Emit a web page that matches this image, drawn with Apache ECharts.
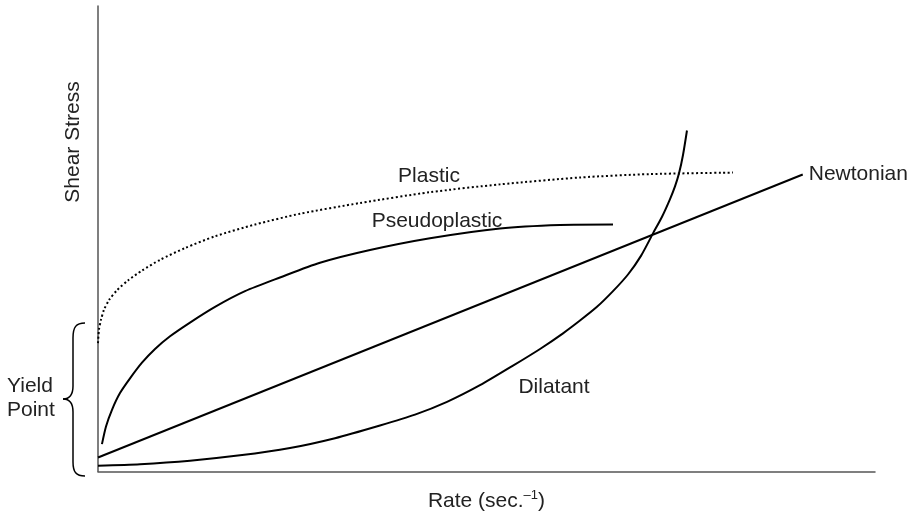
<!DOCTYPE html>
<html>
<head>
<meta charset="utf-8">
<title>Shear Stress vs Rate</title>
<script src="https://cdn.jsdelivr.net/npm/echarts@6/dist/echarts.min.js"></script>
<style>
  html, body { margin: 0; padding: 0; background: #fff; }
  #chart { width: 915px; height: 517px; }
</style>
</head>
<body>
<div id="chart"></div>
<script>
// rate (0-100) vs shear stress (0-100)
const newtonian = [[0, 3.0], [90.7, 63.8]]
const plastic = [
  [0, 27.58], [0.13, 30.53], [0.39, 32.63], [0.77, 34.74], [1.42, 36.84],
  [2.45, 38.95], [3.86, 41.05], [5.66, 43.16], [7.98, 45.47], [11.2, 48.0],
  [15.06, 50.53], [20.21, 53.05], [26.0, 55.37], [33.72, 57.68], [42.73, 60.0],
  [51.74, 61.68], [62.03, 63.16], [71.04, 63.89], [81.72, 64.21]
]
const pseudoplastic = [
  [0.51, 5.89], [1.03, 9.68], [1.8, 13.26], [2.83, 16.84], [4.12, 20.0],
  [5.66, 23.37], [7.34, 26.32], [9.27, 29.05], [11.84, 32.0], [15.06, 35.37],
  [18.92, 38.74], [23.42, 41.68], [28.57, 44.84], [35.01, 47.58], [42.73, 50.11],
  [51.74, 52.21], [59.46, 52.95], [66.28, 53.05]
]
const dilatant = [
  [0, 1.26], [5.41, 1.58], [11.84, 2.32], [18.28, 3.47], [24.71, 5.05],
  [30.5, 7.16], [36.29, 9.89], [40.8, 12.21], [44.92, 14.95], [49.16, 18.53],
  [53.41, 22.74], [56.89, 26.32], [59.85, 29.68], [62.03, 32.42], [64.22, 35.37],
  [66.28, 38.74], [68.21, 42.32], [69.88, 46.32], [71.43, 51.16], [72.59, 54.74],
  [73.62, 58.53], [74.26, 61.26], [74.77, 64.0], [75.29, 68.0], [75.8, 73.26]
]

const font = 'Liberation Sans'
const txt = '#222'

const myChart = echarts.init(document.getElementById('chart'))

const curve = (name, data, extra) => Object.assign({
  name,
  type: 'line',
  data,
  symbol: 'none',
  smooth: 0.25,
  lineStyle: { color: '#000', width: 2 },
  silent: true
}, extra)

// curly brace next to "Yield Point"
const braceStyle = { stroke: '#000', lineWidth: 1.5, fill: 'none' }
const brace = [
  { type: 'bezierCurve', shape: { x1: 85, y1: 323, cpx1: 76, cpy1: 323, cpx2: 73, cpy2: 327, x2: 73, y2: 338 }, style: braceStyle },
  { type: 'line', shape: { x1: 73, y1: 338, x2: 73, y2: 386 }, style: braceStyle },
  { type: 'bezierCurve', shape: { x1: 73, y1: 386, cpx1: 73, cpy1: 395, cpx2: 70, cpy2: 399, x2: 63, y2: 399 }, style: braceStyle },
  { type: 'bezierCurve', shape: { x1: 63, y1: 399, cpx1: 70, cpy1: 399, cpx2: 73, cpy2: 403, x2: 73, y2: 412 }, style: braceStyle },
  { type: 'line', shape: { x1: 73, y1: 412, x2: 73, y2: 462 }, style: braceStyle },
  { type: 'bezierCurve', shape: { x1: 73, y1: 462, cpx1: 73, cpy1: 472, cpx2: 76, cpy2: 476, x2: 85, y2: 476 }, style: braceStyle }
]

const option = {
  animation: false,
  grid: { left: 98, right: 40, top: 6, bottom: 36 },
  xAxis: {
    type: 'value',
    min: 0,
    max: 100,
    name: '{a|Rate (sec.}{s|–1}{a|)}',
    nameLocation: 'middle',
    nameGap: 17,
    nameTextStyle: {
      rich: {
        a: { fontFamily: font, fontSize: 21, color: txt, lineHeight: 26 },
        s: { fontFamily: font, fontSize: 13, color: txt, verticalAlign: 'top', lineHeight: 14 }
      }
    },
    axisLine: { lineStyle: { color: '#555', width: 1.5 } },
    axisTick: { show: false },
    axisLabel: { show: false },
    splitLine: { show: false }
  },
  yAxis: {
    type: 'value',
    min: 0,
    max: 100,
    axisLine: { show: true, lineStyle: { color: '#555', width: 1.5 } },
    axisTick: { show: false },
    axisLabel: { show: false },
    splitLine: { show: false }
  },
  graphic: [
    {
      type: 'text', x: 73, y: 142, rotation: Math.PI / 2,
      style: { text: 'Shear Stress', font: '21px ' + font, fill: txt, align: 'center', verticalAlign: 'middle' }
    },
    {
      type: 'text', x: 7, y: 398,
      style: { text: 'Yield\nPoint', font: '21px ' + font, fill: txt, align: 'left', verticalAlign: 'middle', lineHeight: 24 }
    },
    ...brace,
    {
      type: 'text', x: 429, y: 176,
      style: { text: 'Plastic', font: '21px ' + font, fill: txt, align: 'center', verticalAlign: 'middle' }
    },
    {
      type: 'text', x: 437, y: 221,
      style: { text: 'Pseudoplastic', font: '21px ' + font, fill: txt, align: 'center', verticalAlign: 'middle' }
    },
    {
      type: 'text', x: 554, y: 387,
      style: { text: 'Dilatant', font: '21px ' + font, fill: txt, align: 'center', verticalAlign: 'middle' }
    }
  ],
  series: [
    curve('Plastic', plastic, { lineStyle: { color: '#000', width: 2, type: [2, 2.5] } }),
    curve('Pseudoplastic', pseudoplastic),
    curve('Dilatant', dilatant),
    curve('Newtonian', newtonian, {
      smooth: false,
      endLabel: {
        show: true,
        formatter: '{a}',
        distance: 6,
        fontFamily: font,
        fontSize: 21,
        color: txt
      }
    })
  ]
}

myChart.setOption(option)
</script>
</body>
</html>
